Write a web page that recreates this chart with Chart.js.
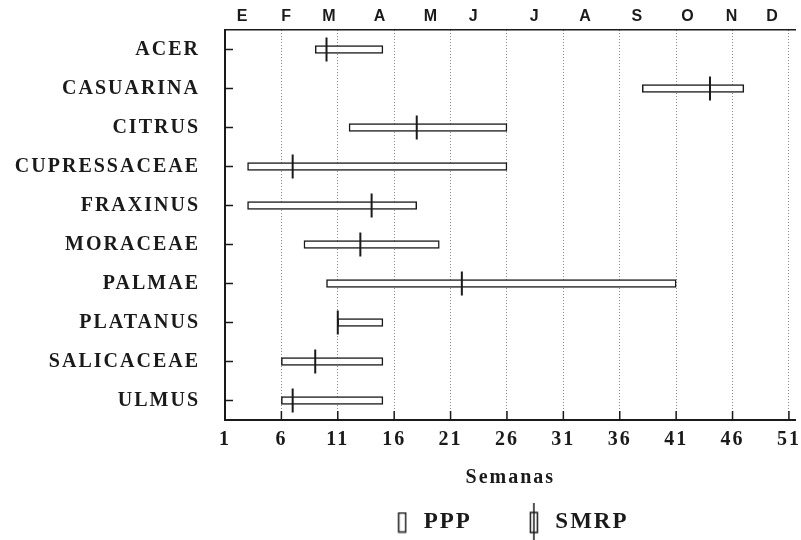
<!DOCTYPE html>
<html>
<head>
<meta charset="utf-8">
<script src="https://cdn.jsdelivr.net/npm/chart.js@4/dist/chart.umd.min.js"></script>
<style>
  html, body { margin: 0; padding: 0; background: #fff; }
  #wrap { width: 801px; height: 540px; }
</style>
</head>
<body>
<div id="wrap"><canvas id="chart" width="801" height="540"></canvas></div>
<script>
// data (weeks of the year)
const taxa = ['ACER', 'CASUARINA', 'CITRUS', 'CUPRESSACEAE', 'FRAXINUS',
              'MORACEAE', 'PALMAE', 'PLATANUS', 'SALICACEAE', 'ULMUS'];
const pppStart = [9, 38, 12, 3, 3, 8, 10, 11, 6, 6];
const pppEnd   = [15, 47, 26, 26, 18, 20, 41, 15, 15, 15];
const smrp     = [10, 44, 18, 7, 14, 13, 22, 11, 9, 7];
const weekTicks = [1, 6, 11, 16, 21, 26, 31, 36, 41, 46, 51];
const monthLabels = ['E', 'F', 'M', 'A', 'M', 'J', 'J', 'A', 'S', 'O', 'N', 'D'];
const monthPos = [2.6, 6.5, 10.3, 14.8, 19.3, 23.1, 28.5, 33.0, 37.6, 42.1, 46.0, 49.6];

const ink = '#1a1a1a';
const serif = "'Liberation Serif', 'DejaVu Serif', serif";

// legend symbols
function pppSymbol() {
  const c = document.createElement('canvas');
  c.width = 10; c.height = 22;
  const g = c.getContext('2d');
  g.strokeStyle = ink; g.lineWidth = 1.5;
  g.strokeRect(1.5, 1.5, 7, 19);
  return c;
}
function smrpSymbol() {
  const c = document.createElement('canvas');
  c.width = 10; c.height = 40;
  const g = c.getContext('2d');
  g.strokeStyle = ink; g.lineWidth = 1.5;
  g.strokeRect(1.5, 10, 7, 20);
  g.beginPath(); g.moveTo(5, 0); g.lineTo(5, 40); g.stroke();
  return c;
}

const spacing = {
  id: 'spacing',
  beforeUpdate(c) { c.ctx.letterSpacing = '2px'; },
  beforeLayout(c) { c.ctx.letterSpacing = '2px'; },
  beforeDraw(c) { c.ctx.letterSpacing = '2px'; }
};

// small tick marks pointing into the plot
const innerTicks = {
  id: 'innerTicks',
  afterDraw(c) {
    const ctx = c.ctx, x = c.scales.x, y = c.scales.y;
    ctx.save();
    ctx.strokeStyle = ink;
    ctx.lineWidth = 1.5;
    ctx.beginPath();
    weekTicks.forEach(v => {
      const px = x.getPixelForValue(v);
      ctx.moveTo(px, x.top); ctx.lineTo(px, x.top - 9);
    });
    taxa.forEach((t, i) => {
      const py = y.getPixelForValue(i);
      ctx.moveTo(y.right, py); ctx.lineTo(y.right + 8, py);
    });
    ctx.stroke();
    ctx.restore();
  }
};

new Chart(document.getElementById('chart'), {
  type: 'bar',
  data: {
    labels: taxa,
    datasets: [
      {
        type: 'scatter',
        label: 'SMRP',
        data: smrp.map((v, i) => ({ x: v, y: taxa[i] })),
        pointStyle: 'line',
        rotation: 90,
        radius: 12,
        borderColor: ink,
        borderWidth: 2,
        xAxisID: 'x',
        yAxisID: 'y'
      },
      {
        label: 'PPP',
        data: pppStart.map((s, i) => [s, pppEnd[i]]),
        backgroundColor: '#fff',
        borderColor: ink,
        borderWidth: 1.5,
        borderSkipped: false,
        barThickness: 8,
        xAxisID: 'x',
        yAxisID: 'y'
      }
    ]
  },
  options: {
    indexAxis: 'y',
    responsive: false,
    animation: false,
    layout: { autoPadding: false, padding: { left: 0, right: 0, top: 0, bottom: -4 } },
    scales: {
      x: {
        type: 'linear',
        position: 'bottom',
        min: 1,
        max: 51.6,
        afterBuildTicks: a => { a.ticks = weekTicks.map(v => ({ value: v })); },
        afterFit: s => { s.height = 39; },
        grid: { color: '#8a8a8a', lineWidth: 1, drawTicks: true, tickLength: 8, tickColor: 'rgba(0,0,0,0)' },
        border: { display: true, color: ink, width: 2, dash: [1, 2] },
        ticks: {
          color: ink,
          padding: 0,
          font: { family: serif, size: 20, weight: 'bold' },
          maxRotation: 0
        },
        title: {
          display: true,
          text: 'Semanas',
          color: ink,
          font: { family: serif, size: 20, weight: 'bold' },
          padding: { top: 0, bottom: -31 }
        }
      },
      x2: {
        type: 'linear',
        position: 'top',
        min: 1,
        max: 51.6,
        afterBuildTicks: a => { a.ticks = monthPos.map(v => ({ value: v })); },
        afterFit: s => { s.height = 30; },
        grid: { drawOnChartArea: false, drawTicks: false },
        border: { display: true, color: ink, width: 1.5 },
        ticks: {
          color: ink,
          padding: 4,
          font: { family: "'Liberation Sans', Arial, sans-serif", size: 16, weight: 'bold' },
          maxRotation: 0,
          callback: (v, i) => monthLabels[i]
        }
      },
      y: {
        type: 'category',
        afterFit: s => { s.width = 225; },
        grid: { drawOnChartArea: false, drawTicks: true, tickLength: 25, tickColor: 'rgba(0,0,0,0)' },
        border: { display: true, color: ink, width: 2 },
        ticks: {
          color: ink,
          padding: 0,
          font: { family: serif, size: 20, weight: 'bold' }
        }
      }
    },
    plugins: {
      tooltip: { enabled: false },
      legend: {
        position: 'bottom',
        fullSize: false,
        labels: {
          usePointStyle: true,
          pointStyleWidth: 20,
          padding: 52,
          color: ink,
          font: { family: serif, size: 23, weight: 'bold' },
          generateLabels: () => [
            { text: 'PPP', pointStyle: pppSymbol(), datasetIndex: 1, fontColor: ink, lineWidth: 0 },
            { text: 'SMRP', pointStyle: smrpSymbol(), datasetIndex: 0, fontColor: ink, lineWidth: 0 }
          ]
        }
      }
    }
  },
  plugins: [spacing, innerTicks]
});
</script>
</body>
</html>
